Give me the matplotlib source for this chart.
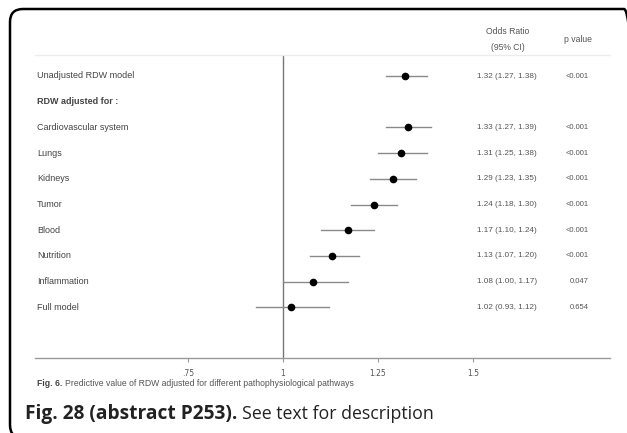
import matplotlib as mpl
mpl.use('Agg')
import matplotlib.pyplot as plt
from matplotlib.patches import FancyBboxPatch
from matplotlib.transforms import IdentityTransform

# rows of the forest plot, top to bottom
labels = ['Unadjusted RDW model', 'RDW adjusted for :', 'Cardiovascular system',
          'Lungs', 'Kidneys', 'Tumor', 'Blood', 'Nutrition', 'Inflammation',
          'Full model']
odds = [1.32, None, 1.33, 1.31, 1.29, 1.24, 1.17, 1.13, 1.08, 1.02]
ci_low = [1.27, None, 1.27, 1.25, 1.23, 1.18, 1.10, 1.07, 1.00, 0.93]
ci_high = [1.38, None, 1.39, 1.38, 1.35, 1.30, 1.24, 1.20, 1.17, 1.12]
p_values = ['<0.001', '', '<0.001', '<0.001', '<0.001', '<0.001', '<0.001',
            '<0.001', '0.047', '0.654']
tick_vals = [0.75, 1.0, 1.25, 1.5]
tick_labels = ['.75', '1', '1.25', '1.5']

W, H = 627, 433
fig = plt.figure(figsize=(W / 100, H / 100), dpi=100)
fig.patch.set_facecolor('white')

# rounded frame around the panel, in pixels (y up)
frame = FancyBboxPatch((10, -5), 627, H - 9 + 5,
                       boxstyle='round,pad=0,rounding_size=13',
                       transform=IdentityTransform(), facecolor='none',
                       edgecolor='black', linewidth=1.8, clip_on=False)
fig.patches.append(frame)

# axes placed so 1.0 sits at x=283 px and 0.25 spans ~95 px
left_px, right_px, top_px, bottom_px = 35, 610, 55, 358
ax = fig.add_axes([left_px / W, 1 - bottom_px / H,
                   (right_px - left_px) / W, (bottom_px - top_px) / H])
scale = 380.0
ax.set_xlim(1 - (283 - left_px) / scale, 1 + (right_px - 283) / scale)
row_gap = 25.7
ax.set_ylim((bottom_px - 76) / row_gap, (top_px - 76) / row_gap)


def px_x(p):
    return 1 + (p - 283) / scale


def px_y(p):
    return (p - 76) / row_gap


for s in ['left', 'right']:
    ax.spines[s].set_visible(False)
ax.spines['top'].set_color('#ececec')
ax.spines['top'].set_linewidth(1.0)
ax.spines['bottom'].set_color('#9a9a9a')
ax.spines['bottom'].set_linewidth(1.0)

ax.axvline(1.0, color='#777777', linewidth=1.0)

for i in range(len(labels)):
    bold = labels[i].startswith('RDW adjusted')
    ax.text(px_x(37), i, labels[i], fontsize=6.5,
            fontweight='bold' if bold else 'normal', color='#444444',
            va='center', ha='left', family='Liberation Sans')
    if odds[i] is None:
        continue
    ax.plot([ci_low[i], ci_high[i]], [i, i], color='#8a8a8a', linewidth=1.0)
    ax.plot(odds[i], i, 'o', color='black', markersize=4.5)
    or_text = '%.2f (%.2f, %.2f)' % (odds[i], ci_low[i], ci_high[i])
    ax.text(px_x(507), i, or_text, fontsize=5.9, color='#555555',
            va='center', ha='center', family='Liberation Sans')
    ax.text(px_x(589), i, p_values[i], fontsize=5.5,
            color='#555555', va='center', ha='right', family='Liberation Sans')

# column headers above the plot
head = dict(fontsize=6.2, color='#555555', ha='center', va='center',
            family='Liberation Sans', clip_on=False)
ax.text(px_x(508), px_y(31), 'Odds Ratio', **head)
ax.text(px_x(508), px_y(47), '(95% CI)', **head)
ax.text(px_x(578), px_y(40), 'p value', **head)

ax.set_yticks([])
ax.set_xticks(tick_vals)
ax.set_xticklabels(tick_labels)
ax.tick_params(axis='x', length=3, width=0.8, color='#9a9a9a',
               labelsize=5.5, labelcolor='#555555', pad=5)

# small caption of the embedded figure
fig.canvas.draw()
c1 = fig.text(37 / W, 1 - 384 / H, 'Fig. 6.', fontsize=6.2, fontweight='bold',
              color='#444444', va='center', ha='left', family='Liberation Sans')
bb = c1.get_window_extent(fig.canvas.get_renderer())
fig.text((bb.x1 + 3) / W, 1 - 384 / H,
         'Predictive value of RDW adjusted for different pathophysiological pathways',
         fontsize=6.2, color='#555555', va='center', ha='left',
         family='Liberation Sans')

# outer caption
t1 = fig.text(25 / W, 1 - 414 / H, 'Fig. 28 (abstract P253).', fontsize=13.8,
              fontweight='bold', color='#222222', va='center', ha='left',
              family='Open Sans')
bb = t1.get_window_extent(fig.canvas.get_renderer())
fig.text((bb.x1 + 5) / W, 1 - 414 / H, 'See text for description',
         fontsize=12.8, color='#222222', va='center', ha='left',
         family='Open Sans')

plt.savefig('out.png', dpi=100)
